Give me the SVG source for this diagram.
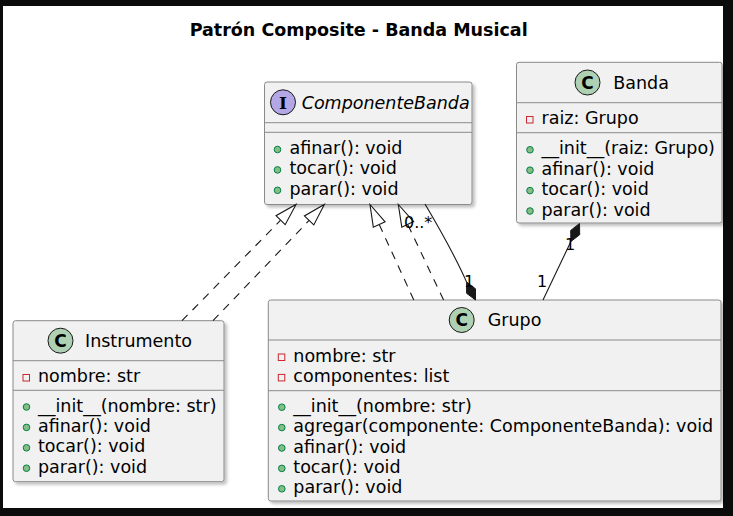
<svg xmlns="http://www.w3.org/2000/svg" width="733" height="516" viewBox="0 0 733 516">
<defs>
<filter id="sh" x="-5%" y="-5%" width="115%" height="115%">
<feDropShadow dx="2.5" dy="2.5" stdDeviation="1.5" flood-color="#000" flood-opacity="0.25"/>
</filter>
</defs>
<style>
text{font-family:"DejaVu Sans","Liberation Sans",sans-serif;fill:#000}
.box{fill:#F1F1F1;stroke:#8a8a8a;stroke-width:1}
.div{stroke:#8a8a8a;stroke-width:1}
.t{font-size:17.5px}
.it{font-size:17.5px;font-style:italic}
.ttl{font-size:17.5px;font-weight:bold}
.lbl{font-size:16px}
.cc{fill:#ADD1B2;stroke:#181818;stroke-width:1}
.ci{fill:#B4A7E5;stroke:#181818;stroke-width:1}
.cl{font-size:17px;font-weight:bold;text-anchor:middle}
.pri{fill:none;stroke:#C82930;stroke-width:1}
.pub{fill:#84BE84;stroke:#038048;stroke-width:1}
.dash{fill:none;stroke:#181818;stroke-width:1.1;stroke-dasharray:8,7}
.ln{fill:none;stroke:#181818;stroke-width:1.1}
.tri{fill:#fff;stroke:#181818;stroke-width:1.1}
.dia{fill:#181818;stroke:#181818;stroke-width:1}
</style>
<rect x="0" y="0" width="733" height="516" fill="#0b0b0b"/>
<rect x="3" y="6" width="720" height="502" fill="#fff"/>
<text class="ttl" x="358.7" y="36" text-anchor="middle">Patrón Composite - Banda Musical</text>

<g id="ComponenteBanda">
<rect class="box" x="264.5" y="82" width="207.5" height="122.5" rx="2.5" filter="url(#sh)"/>
<circle class="ci" cx="283" cy="102.3" r="12.5"/>
<text class="cl" x="283" y="108.5" style="font-family:'DejaVu Serif',serif">I</text>
<text class="it" x="301.7" y="108.7">ComponenteBanda</text>
<line class="div" x1="264.5" y1="122.7" x2="472" y2="122.7"/>
<line class="div" x1="264.5" y1="132.3" x2="472" y2="132.3"/>
<circle class="pub" cx="277.5" cy="149.5" r="3.3"/><text class="t" x="289.5" y="154">afinar(): void</text>
<circle class="pub" cx="277.5" cy="169.9" r="3.3"/><text class="t" x="289.5" y="174.4">tocar(): void</text>
<circle class="pub" cx="277.5" cy="190.3" r="3.3"/><text class="t" x="289.5" y="194.8">parar(): void</text>
</g>

<g id="Banda">
<rect class="box" x="516.5" y="62.3" width="205.5" height="160.7" rx="2.5" filter="url(#sh)"/>
<circle class="cc" cx="587.5" cy="82.5" r="12.5"/>
<text class="cl" x="587.5" y="88.6">C</text>
<text class="t" x="613.3" y="88.9">Banda</text>
<line class="div" x1="516.5" y1="102.7" x2="722" y2="102.7"/>
<rect class="pri" x="526.5" y="116.5" width="6.5" height="6.5"/><text class="t" x="541.5" y="124">raiz: Grupo</text>
<line class="div" x1="516.5" y1="132.7" x2="722" y2="132.7"/>
<circle class="pub" cx="530" cy="149.8" r="3.3"/><text class="t" x="541.5" y="154.3">__init__(raiz: Grupo)</text>
<circle class="pub" cx="530" cy="170.2" r="3.3"/><text class="t" x="541.5" y="174.7">afinar(): void</text>
<circle class="pub" cx="530" cy="190.6" r="3.3"/><text class="t" x="541.5" y="195.1">tocar(): void</text>
<circle class="pub" cx="530" cy="211" r="3.3"/><text class="t" x="541.5" y="215.5">parar(): void</text>
</g>

<g id="Instrumento">
<rect class="box" x="13" y="320.7" width="211" height="161" rx="2.5" filter="url(#sh)"/>
<circle class="cc" cx="60.5" cy="340.7" r="12.5"/>
<text class="cl" x="60.5" y="346.8">C</text>
<text class="t" x="85" y="347.1">Instrumento</text>
<line class="div" x1="13" y1="360.7" x2="224" y2="360.7"/>
<rect class="pri" x="23" y="374.5" width="6.5" height="6.5"/><text class="t" x="38" y="382">nombre: str</text>
<line class="div" x1="13" y1="390.3" x2="224" y2="390.3"/>
<circle class="pub" cx="26.5" cy="407" r="3.3"/><text class="t" x="38" y="411.5">__init__(nombre: str)</text>
<circle class="pub" cx="26.5" cy="427.4" r="3.3"/><text class="t" x="38" y="431.9">afinar(): void</text>
<circle class="pub" cx="26.5" cy="447.8" r="3.3"/><text class="t" x="38" y="452.3">tocar(): void</text>
<circle class="pub" cx="26.5" cy="468.2" r="3.3"/><text class="t" x="38" y="472.7">parar(): void</text>
</g>

<g id="Grupo">
<rect class="box" x="268.3" y="300" width="452.7" height="201" rx="2.5" filter="url(#sh)"/>
<circle class="cc" cx="461.7" cy="320" r="12.5"/>
<text class="cl" x="461.7" y="326.1">C</text>
<text class="t" x="487.7" y="326.4">Grupo</text>
<line class="div" x1="268.3" y1="340" x2="721" y2="340"/>
<rect class="pri" x="278.3" y="354" width="6.5" height="6.5"/><text class="t" x="293.3" y="361.5">nombre: str</text>
<rect class="pri" x="278.3" y="374.4" width="6.5" height="6.5"/><text class="t" x="293.3" y="381.9">componentes: list</text>
<line class="div" x1="268.3" y1="390.7" x2="721" y2="390.7"/>
<circle class="pub" cx="281.8" cy="407.2" r="3.3"/><text class="t" x="293.3" y="411.7">__init__(nombre: str)</text>
<circle class="pub" cx="281.8" cy="427.6" r="3.3"/><text class="t" x="293.3" y="432.1">agregar(componente: ComponenteBanda): void</text>
<circle class="pub" cx="281.8" cy="448" r="3.3"/><text class="t" x="293.3" y="452.5">afinar(): void</text>
<circle class="pub" cx="281.8" cy="468.4" r="3.3"/><text class="t" x="293.3" y="472.9">tocar(): void</text>
<circle class="pub" cx="281.8" cy="488.8" r="3.3"/><text class="t" x="293.3" y="493.3">parar(): void</text>
</g>

<g id="connectors">
<path class="dash" d="M182,320.7 L280.6,220.2"/>
<polygon class="tri" points="296,204.5 285.2,224.7 276,215.7"/>
<path class="dash" d="M213,320.7 L309.1,220.4"/>
<polygon class="tri" points="324.3,204.5 313.8,224.9 304.4,215.9"/>
<path class="dash" d="M413.8,300 L379.2,224.5"/>
<polygon class="tri" points="370,204.5 385.1,221.8 373.3,227.2"/>
<path class="dash" d="M443.6,300 L407.7,224.4"/>
<polygon class="tri" points="398.3,204.5 413.6,221.6 401.8,227.2"/>
<path class="ln" d="M425,204 C438,226 456,258 466.6,282.1"/>
<polygon class="dia" points="475.5,300 475.5,288.8 466.6,282.1 466.6,293.3"/>
<text class="lbl" x="404" y="228">0..*</text>
<text class="lbl" x="464" y="287">1</text>
<polygon class="dia" points="579.5,223.5 579.7,234.7 570.9,241.5 570.7,230.4"/>
<path class="ln" d="M570.9,241.5 L543,300"/>
<text class="lbl" x="565" y="250">1</text>
<text class="lbl" x="537" y="287">1</text>
</g>
</svg>
